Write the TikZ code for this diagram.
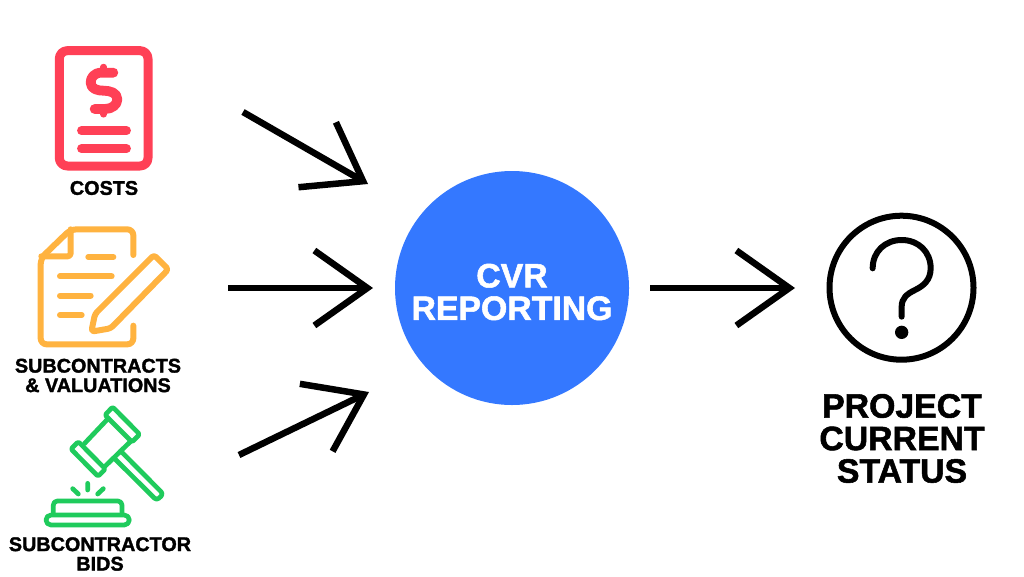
\documentclass[tikz,border=0pt]{standalone}
\usepackage{fontspec}
\setmainfont[BoldFeatures={FakeBold=1.6}]{Liberation Sans}
\usetikzlibrary{arrows.meta}
\definecolor{cred}{HTML}{FF4056}
\definecolor{corange}{HTML}{FFB340}
\definecolor{cgreen}{HTML}{1FCB5C}
\definecolor{cblue}{HTML}{3478FF}
\tikzset{
  flow/.style={line width=6.5pt,black,-{Straight Barb[length=53pt,width=75pt,line width=6.5pt]}},
  smalllabel/.style={font=\bfseries\fontsize{19.8}{19.5}\selectfont,align=center,text=black,inner sep=0pt},
  biglabel/.style={font=\bfseries\fontsize{33.8}{32.5}\selectfont,align=center,inner sep=0pt},
  redline/.style={draw=cred,line cap=round,line join=round},
  orangeline/.style={draw=corange,line width=6pt,line cap=round,line join=round},
  greenline/.style={draw=cgreen,line width=4.7pt,line cap=round,line join=round},
}
\begin{document}
\begin{tikzpicture}[x=1pt,y=-1pt]
\useasboundingbox (0,0) rectangle (1024,576);
\fill[white] (0,0) rectangle (1024,576);

% costs icon
\begin{scope}[shift={(20,30)},scale=1/3]
\draw[redline,line width=9pt,rounded corners=8pt] (118,62) rectangle (384,408);
\draw[redline,line width=9.8pt] (280,128) -- (245,128) .. controls (222,128) and (212,143) .. (212,158) .. controls (212,178) and (235,182) .. (250,182) .. controls (270,182) and (292,188) .. (292,208) .. controls (292,225) and (275,237) .. (255,237) -- (224,237);
\draw[redline,line width=6.5pt] (251,111) -- (251,130) (251,235) -- (251,253);
\draw[redline,line width=8.5pt] (184,302) -- (320,302) (184,356) -- (320,356);
\end{scope}
\node[smalllabel] (costs) at (104,188) {COSTS};

% subcontracts icon
\begin{scope}[shift={(0,215)},scale=1/3]
\draw[orangeline,rounded corners=6pt] (400,120) -- (400,43) -- (212,43) -- (122,130) -- (122,388) -- (400,388) -- (400,332);
\draw[orangeline,rounded corners=3pt] (212,43) -- (212,124) -- (124,124);
\draw[orangeline] (265,126) -- (340,126) (180,184) -- (335,184) (180,242) -- (272,242) (180,300) -- (245,300);
\draw[orangeline,rounded corners=3pt] (274,350) -- (285,297) -- (462,120) -- (505,163) -- (332,340) -- cycle;
\end{scope}
\node[smalllabel] (subs) at (98,375.5) {SUBCONTRACTS\\\& VALUATIONS};

% gavel icon
\begin{scope}[shift={(0,395)},scale=1/3]
\draw[greenline,rounded corners=1.5pt] (338,36) -- (419,118) -- (396,141) -- (315,60) -- cycle;
\draw[greenline,rounded corners=1.5pt] (235,140) -- (316,222) -- (294,244) -- (213,162) -- cycle;
\draw[greenline] (325,70) -- (253,146) (393,138) -- (315,214);
\draw[greenline,rounded corners=3pt] (362,168) -- (490,297) -- (470,316) -- (345,192);
\draw[greenline] (218,281) -- (235,297) (263,265) -- (263,285) (310,281) -- (293,297);
\draw[greenline,rounded corners=4pt] (160,352) -- (160,318) -- (366,318) -- (366,352);
\draw[greenline,rounded corners=5pt] (138,360) rectangle (388,390);
\end{scope}
\node[smalllabel] (bids) at (100,554) {SUBCONTRACTOR\\BIDS};

% centre
\node[circle,fill=cblue,minimum size=234pt,inner sep=0pt] (cvr) at (512,288) {};
\node[biglabel,text=white] (cvrlabel) at (512,292) {CVR\\REPORTING};

% question
\node[circle,draw=black,line width=6pt,minimum size=144pt,inner sep=0pt] (status) at (901.5,287.7) {};
\begin{scope}[shift={(810,200)},scale=1/3]
\draw[black,line width=6pt,line cap=round] (188,205) .. controls (188,155) and (225,120) .. (275,120) .. controls (325,120) and (362,155) .. (362,205) .. controls (362,240) and (340,258) .. (315,270) .. controls (290,282) and (275,295) .. (275,320) -- (275,350);
\fill[black] (275,397) circle (20);
\end{scope}
\node[biglabel,text=black] (statuslabel) at (902,438.5) {PROJECT\\CURRENT\\STATUS};

% arrows
\coordinate (a1s) at (243,112); \coordinate (a1e) at (368,184);
\coordinate (a2s) at (228,288); \coordinate (a2e) at (373,288);
\coordinate (a3s) at (239,455); \coordinate (a3e) at (369,392);
\coordinate (a4s) at (650,288); \coordinate (a4e) at (795,288);
\draw[flow] (a1s) -- (a1e);
\draw[flow] (a2s) -- (a2e);
\draw[flow] (a3s) -- (a3e);
\draw[flow] (a4s) -- (a4e);
\end{tikzpicture}
\end{document}
